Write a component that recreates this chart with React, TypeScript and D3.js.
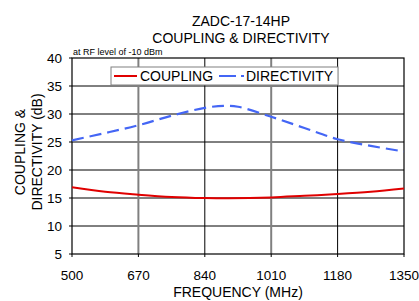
import React, { useEffect, useRef } from 'react';
import * as d3 from 'd3';

const freqTicks = [500, 670, 840, 1010, 1180, 1350];
const dbTicks = [5, 10, 15, 20, 25, 30, 35, 40];

const couplingFreq = [500, 585, 670, 755, 840, 900, 1010, 1095, 1180, 1265, 1350];
const couplingDb = [16.9, 16.1, 15.6, 15.2, 15.0, 14.95, 15.1, 15.4, 15.7, 16.1, 16.7];

const directivityFreq = [500, 585, 670, 755, 840, 890, 925, 1010, 1095, 1180, 1265, 1350];
const directivityDb = [25.3, 26.6, 28.0, 29.7, 31.1, 31.45, 31.3, 29.5, 27.5, 25.5, 24.3, 23.3];

const FONT = '"Liberation Sans", Arial, sans-serif';

const App: React.FC = () => {
  const ref = useRef<SVGSVGElement>(null);

  useEffect(() => {
    if (!ref.current) return;
    const svg = d3.select(ref.current);
    svg.selectAll('*').remove();

    const left = 72, right = 404, top = 58, bottom = 254;

    const x = d3.scaleLinear().domain([500, 1350]).range([left, right]);
    const y = d3.scaleLinear().domain([5, 40]).range([bottom, top]);

    svg.append('rect')
      .attr('x', left).attr('y', top)
      .attr('width', right - left).attr('height', bottom - top)
      .attr('fill', '#fff');

    // horizontal grid
    svg.selectAll('.hgrid')
      .data(dbTicks.slice(1, -1))
      .enter().append('line')
      .attr('x1', left).attr('x2', right)
      .attr('y1', d => y(d)).attr('y2', d => y(d))
      .attr('stroke', '#000').attr('stroke-width', 1);

    // vertical grid, alternating grey / black like the original
    svg.selectAll('.vgrid')
      .data(freqTicks.slice(1, -1))
      .enter().append('line')
      .attr('x1', d => x(d)).attr('x2', d => x(d))
      .attr('y1', top).attr('y2', bottom)
      .attr('stroke', (d, i) => (i % 2 === 0 ? '#808080' : '#000'))
      .attr('stroke-width', (d, i) => (i % 2 === 0 ? 2 : 1));

    // frame
    svg.append('rect')
      .attr('x', left).attr('y', top)
      .attr('width', right - left).attr('height', bottom - top)
      .attr('fill', 'none').attr('stroke', '#000').attr('stroke-width', 1.2);

    // ticks
    svg.selectAll('.ytick')
      .data(dbTicks)
      .enter().append('line')
      .attr('x1', left - 3).attr('x2', left)
      .attr('y1', d => y(d)).attr('y2', d => y(d))
      .attr('stroke', '#000');
    svg.selectAll('.xtick')
      .data(freqTicks)
      .enter().append('line')
      .attr('x1', d => x(d)).attr('x2', d => x(d))
      .attr('y1', bottom).attr('y2', bottom + 3)
      .attr('stroke', '#000');

    // tick labels
    svg.selectAll('.ylab')
      .data(dbTicks)
      .enter().append('text')
      .attr('x', 62).attr('y', d => y(d))
      .attr('dy', '0.35em')
      .attr('text-anchor', 'end')
      .style('font-family', FONT).style('font-size', '13.5px')
      .text(d => d);
    svg.selectAll('.xlab')
      .data(freqTicks)
      .enter().append('text')
      .attr('x', d => x(d)).attr('y', 280)
      .attr('text-anchor', 'middle')
      .style('font-family', FONT).style('font-size', '13.5px')
      .text(d => d);

    const line = d3.line<[number, number]>()
      .x(d => x(d[0]))
      .y(d => y(d[1]))
      .curve(d3.curveCatmullRom.alpha(0.5));

    svg.append('path')
      .attr('d', line(directivityFreq.map((f, i) => [f, directivityDb[i]] as [number, number])))
      .attr('fill', 'none').attr('stroke', '#4466f5')
      .attr('stroke-width', 2.2).attr('stroke-dasharray', '12,6');

    svg.append('path')
      .attr('d', line(couplingFreq.map((f, i) => [f, couplingDb[i]] as [number, number])))
      .attr('fill', 'none').attr('stroke', '#e00000')
      .attr('stroke-width', 2);

    // legend
    const lg = svg.append('g');
    lg.append('rect')
      .attr('x', 111).attr('y', 67).attr('width', 227).attr('height', 18)
      .attr('fill', '#fff').attr('stroke', '#808080').attr('stroke-width', 1);
    lg.append('line')
      .attr('x1', 114).attr('x2', 137).attr('y1', 76).attr('y2', 76)
      .attr('stroke', '#e00000').attr('stroke-width', 2);
    lg.append('text')
      .attr('x', 140).attr('y', 81)
      .style('font-family', FONT).style('font-size', '14px')
      .text('COUPLING');
    lg.append('line')
      .attr('x1', 219).attr('x2', 244).attr('y1', 76).attr('y2', 76)
      .attr('stroke', '#4466f5').attr('stroke-width', 2.2)
      .attr('stroke-dasharray', '17,5');
    lg.append('text')
      .attr('x', 246).attr('y', 81)
      .style('font-family', FONT).style('font-size', '14px')
      .text('DIRECTIVITY');

    // titles
    svg.append('text')
      .attr('x', 241).attr('y', 26).attr('text-anchor', 'middle')
      .style('font-family', FONT).style('font-size', '14px')
      .text('ZADC-17-14HP');
    svg.append('text')
      .attr('x', 241).attr('y', 42.5).attr('text-anchor', 'middle')
      .style('font-family', FONT).style('font-size', '14px')
      .text('COUPLING & DIRECTIVITY');
    svg.append('text')
      .attr('x', 73).attr('y', 55)
      .style('font-family', FONT).style('font-size', '9px')
      .text('at RF level of -10 dBm');

    svg.append('text')
      .attr('x', 238).attr('y', 297).attr('text-anchor', 'middle')
      .style('font-family', FONT).style('font-size', '14px')
      .text('FREQUENCY (MHz)');

    const yTitle = svg.append('text')
      .attr('transform', 'translate(0,152) rotate(-90)')
      .attr('text-anchor', 'middle')
      .style('font-family', FONT).style('font-size', '14px');
    yTitle.append('tspan').attr('x', 0).attr('y', 25).text('COUPLING &');
    yTitle.append('tspan').attr('x', 0).attr('y', 42).text('DIRECTIVITY (dB)');
  }, []);

  return (
    <div style={{ position: 'absolute', left: 0, top: 0 }}>
      <svg ref={ref} width={419} height={301} style={{ display: 'block', background: '#fff' }}></svg>
    </div>
  );
};

export default App;
